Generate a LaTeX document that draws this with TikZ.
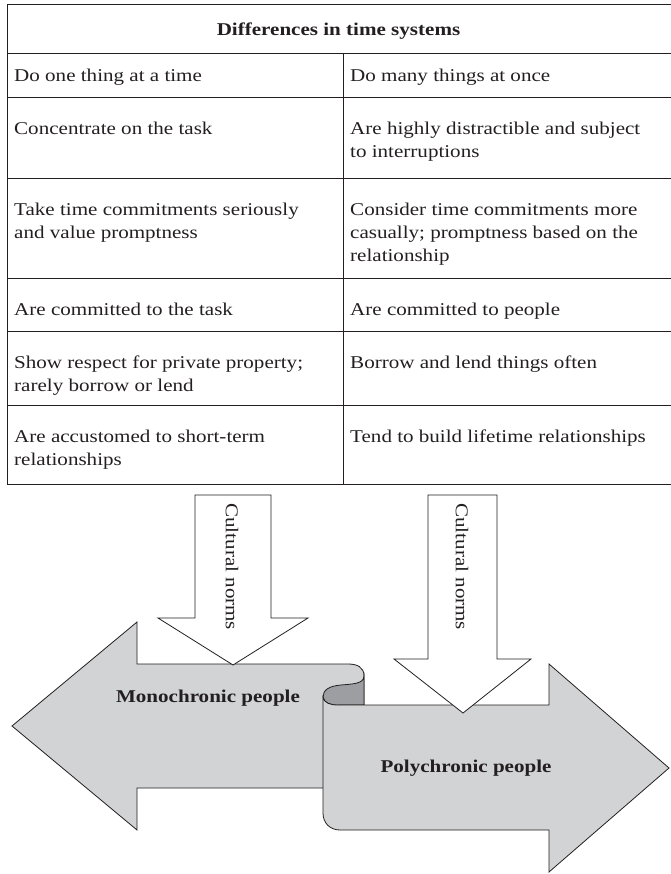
\documentclass[tikz,border=0pt]{standalone}
\usepackage{fontspec}
\setmainfont[FakeStretch=1.17]{Liberation Serif}
\definecolor{ink}{HTML}{231F20}
\definecolor{ribbon}{HTML}{D1D3D4}
\definecolor{fold}{HTML}{9C9EA1}
\newcommand\celltxt[1]{\parbox[t]{330pt}{\raggedright #1}}
\begin{document}
\begin{tikzpicture}[x=1pt, y=-1pt,
  rule/.style={line width=1pt, draw=ink},
  outline/.style={line width=0.8pt, draw=ink, line join=miter},
  bodyfont/.style={font=\fontsize{18}{23}\selectfont, text=ink},
  celltext/.style={bodyfont, anchor=base west, inner sep=0pt},
  arrowtext/.style={bodyfont, inner sep=0pt},
  normstext/.style={bodyfont, inner sep=0pt, rotate=-90, anchor=west}]
\useasboundingbox (0,0) rectangle (670,874);

% ---- table frame (right edge runs past the page) ----
\draw[rule] (7,5) rectangle (672,484);
\foreach \yy in {54,98,179,278,331,405} \draw[rule] (7,\yy) -- (672,\yy);
\draw[rule] (343,54) -- (343,484);

\node[bodyfont, anchor=base, inner sep=0pt, font=\fontsize{18}{23}\selectfont\bfseries] (head) at (338.5,36) {Differences in time systems};

% left column
\node[celltext] (m1) at (14,82) {\celltxt{Do one thing at a time}};
\node[celltext] (m2) at (14,135) {\celltxt{Concentrate on the task}};
\node[celltext] (m3) at (14,216) {\celltxt{Take time commitments seriously\\and value promptness}};
\node[celltext] (m4) at (14,315) {\celltxt{Are committed to the task}};
\node[celltext] (m5) at (14,368) {\celltxt{Show respect for private property;\\rarely borrow or lend}};
\node[celltext] (m6) at (14,442) {\celltxt{Are accustomed to short-term\\relationships}};
% right column
\node[celltext] (p1) at (350,82) {\celltxt{Do many things at once}};
\node[celltext] (p2) at (350,135) {\celltxt{Are highly distractible and subject\\to interruptions}};
\node[celltext] (p3) at (350,216) {\celltxt{Consider time commitments more\\casually; promptness based on the\\relationship}};
\node[celltext] (p4) at (350,315) {\celltxt{Are committed to people}};
\node[celltext] (p5) at (350,368) {\celltxt{Borrow and lend things often}};
\node[celltext] (p6) at (350,442) {\celltxt{Tend to build lifetime relationships}};

% ---- monochronic ribbon arrow (points left) ----
\draw[outline, fill=ribbon] (12,726) -- (137,622) -- (137,664) -- (348,664)
  .. controls (357,664) and (364,667) .. (364,676) -- (364,788) -- (137,788)
  -- (137,830) -- cycle;

% back side of the ribbon at the fold
\draw[outline, fill=fold] (323,697) .. controls (323,690) and (329,686) .. (341,685)
  .. controls (352,684) and (364,684) .. (364,676) -- (364,705) -- (338,705)
  .. controls (330,705) and (324,703) .. (323,697) -- cycle;

% ---- polychronic ribbon arrow (points right) ----
\draw[outline, fill=ribbon] (323,697) .. controls (324,703) and (330,705) .. (338,705)
  -- (549,705) -- (549,664) -- (669,768) -- (549,872) -- (549,830) -- (340,830)
  .. controls (330,830) and (323,823) .. (323,813) -- cycle;

% ---- cultural norms arrows ----
\draw[outline, fill=white] (195,495) -- (271,495) -- (271,618) -- (308,618)
  -- (233,665) -- (158,618) -- (195,618) -- cycle;
\draw[outline, fill=white] (428,495) -- (497,495) -- (497,659) -- (531,659)
  -- (463,713) -- (394,659) -- (428,659) -- cycle;

\node[normstext] (normsL) at (232,503) {Cultural norms};
\node[normstext] (normsR) at (462,503) {Cultural norms};

\node[arrowtext, font=\fontsize{18}{23}\selectfont\bfseries] (mono) at (208,698) {Monochronic people};
\node[arrowtext, font=\fontsize{18}{23}\selectfont\bfseries] (poly) at (466,768) {Polychronic people};
\end{tikzpicture}
\end{document}
